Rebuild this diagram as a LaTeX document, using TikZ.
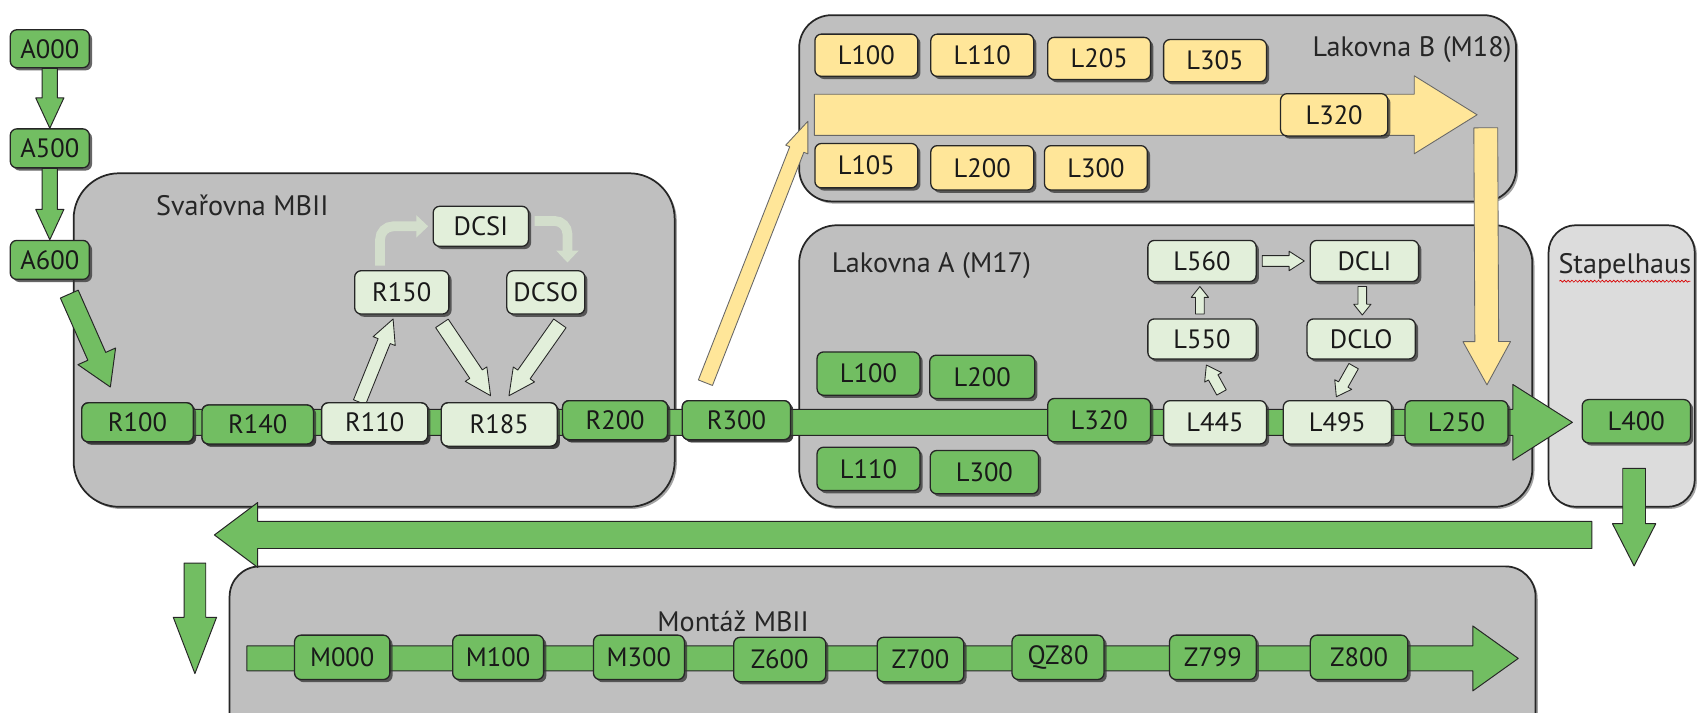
\documentclass[tikz,border=0pt]{standalone}
\usepackage{fontspec}
\setmainfont{PT Sans}
\usetikzlibrary{calc,shadows,arrows.meta,decorations.pathmorphing}

\definecolor{hallgray}{RGB}{191,191,191}
\definecolor{hallgraylt}{RGB}{220,220,220}
\definecolor{grn}{RGB}{114,190,98}
\definecolor{lgrn}{RGB}{226,239,218}
\definecolor{ylw}{RGB}{255,230,153}
\definecolor{edge}{RGB}{38,38,38}

% block arrow: style, from, to, half shaft width, half head width, head length
\newcommand{\blockarrow}[6]{%
  \path #2 coordinate (ba-s) #3 coordinate (ba-e);
  \path ($(ba-e)!#6!(ba-s)$) coordinate (ba-h);
  \draw[#1] ($(ba-s)!#4!90:(ba-e)$) -- ($(ba-h)!#4!90:(ba-e)$) -- ($(ba-h)!#5!90:(ba-e)$)
    -- (ba-e) -- ($(ba-h)!#5!-90:(ba-e)$) -- ($(ba-h)!#4!-90:(ba-e)$) -- ($(ba-s)!#4!-90:(ba-e)$) -- cycle;
}

\tikzset{
  station/.style={draw=edge, line width=1.2pt, rounded corners=6pt, fill=grn,
    minimum width=95pt, minimum height=37pt, inner sep=2pt, text=black!90,
    font=\fontsize{24.5}{27}\selectfont,
    drop shadow={shadow xshift=2.5pt, shadow yshift=-2.5pt, fill=black!80, opacity=0.75}},
  pale/.style={station, fill=lgrn},
  paint/.style={station, fill=ylw},
  hall/.style={draw=edge, line width=1.6pt, fill=hallgray, inner sep=0pt,
    drop shadow={shadow xshift=2pt, shadow yshift=-2pt, fill=black!60, opacity=0.6}},
  halllabel/.style={font=\fontsize{26}{29}\selectfont, text=black!85, inner sep=0pt},
  grnarrow/.style={fill=grn, draw=edge, line width=0.9pt, line join=round},
  palearrow/.style={fill=lgrn, draw=edge, line width=0.8pt, line join=round},
  ylwarrow/.style={fill=ylw, draw=edge!70, line width=0.8pt, line join=round},
  bentarrow/.style={draw=lgrn!85!gray, line width=9pt, rounded corners=12pt,
    -{Triangle[length=11pt,width=20pt]}}
}

\begin{document}
\begin{tikzpicture}[x=1pt,y=-1pt]
\useasboundingbox (0,0) rectangle (1568,658);
\clip (0,0) rectangle (1568,658);
\fill[white] (0,0) rectangle (1568,658);

% halls
\node[hall, rounded corners=42pt, minimum width=555pt, minimum height=308pt] (weld) at (345.5,314) {};
\node[hall, rounded corners=30pt, minimum width=662pt, minimum height=172pt] (paintB) at (1069,100) {};
\node[hall, rounded corners=35pt, minimum width=677pt, minimum height=260pt] (paintA) at (1076.5,338) {};
\node[hall, rounded corners=25pt, minimum width=135pt, minimum height=260pt, fill=hallgraylt] (stapel) at (1497.5,338) {};
\node[hall, rounded corners=28pt, minimum width=1206pt, minimum height=164pt] (assembly) at (815,605) {};

\node[halllabel, anchor=west] (weldLbl) at (144,190) {Svařovna MBII};
\node[halllabel, anchor=east] (paintBLbl) at (1396,46) {Lakovna B (M18)};
\node[halllabel, anchor=west] (paintALbl) at (768,245) {Lakovna A (M17)};
\node[halllabel, anchor=west] (stapelLbl) at (1439,246) {Stapelhaus};
\node[halllabel] (assemblyLbl) at (677,574) {Montáž MBII};
\draw[red!85!black, line width=0.6pt, decorate, decoration={snake, amplitude=0.9pt, segment length=3.5pt}]
  ($(stapelLbl.base west)+(1,7)$) -- ($(stapelLbl.base east)+(-1,7)$);

% free ends of the flow arrows
\coordinate (mainTip) at (1452,390);
\coordinate (yBarIn) at (752,106);
\coordinate (yBarTip) at (1364,106);
\coordinate (retStart) at (1470,494);
\coordinate (retTip) at (198,494);
\coordinate (downIn) at (180,520);
\coordinate (downTip) at (180,622);
\coordinate (mIn) at (228,608);
\coordinate (mTip) at (1402,608);

% stations
\node[station, minimum width=73pt, minimum height=35pt] (A000) at (46,45) {A000};
\node[station, minimum width=73pt, minimum height=36pt] (A500) at (46,137) {A500};
\node[station, minimum width=73pt, minimum height=36pt] (A600) at (46,240) {A600};

\node[station, minimum width=103pt, minimum height=36pt] (R100) at (127,390) {R100};
\node[station, minimum width=103pt, minimum height=36pt] (R140) at (238,392) {R140};
\node[pale, minimum width=98pt, minimum height=36pt] (R110) at (346,390) {R110};
\node[pale, minimum width=107pt, minimum height=40pt] (R185) at (461,392) {R185};
\node[station, minimum width=97pt, minimum height=36pt] (R200) at (568,388) {R200};
\node[station, minimum width=100pt, minimum height=36pt] (R300) at (680,388) {R300};
\node[pale, minimum width=87pt, minimum height=40pt] (R150) at (371,270) {R150};
\node[pale, minimum width=88pt, minimum height=37pt] (DCSI) at (444,209) {DCSI};
\node[pale, minimum width=72pt, minimum height=40pt] (DCSO) at (504,270) {DCSO};

% flow arrows (drawn under the stations)
\blockarrow{grnarrow}{(A000.south)}{(A500.north)}{7pt}{13pt}{28pt}
\blockarrow{grnarrow}{(A500.south)}{(A600.north)}{7pt}{13pt}{28pt}
\blockarrow{grnarrow}{($(A600.south)+(18,13)$)}{($(R100.north west)+(27,-14)$)}{9pt}{19pt}{31pt}
\blockarrow{grnarrow}{(R100.center)}{(mainTip)}{12pt}{35pt}{55pt}
\blockarrow{ylwarrow}{(yBarIn)}{(yBarTip)}{19pt}{36pt}{58pt}
\blockarrow{ylwarrow}{($(R300.north west)+(22,-16)$)}{($(yBarIn)+(-6,6)$)}{7pt}{11pt}{28pt}
\blockarrow{grnarrow}{(retStart)}{(retTip)}{12.5pt}{30pt}{40pt}
\blockarrow{grnarrow}{(downIn)}{(downTip)}{10pt}{20pt}{52pt}
\blockarrow{grnarrow}{(mIn)}{(mTip)}{11.5pt}{30pt}{42pt}

\blockarrow{palearrow}{($(R110.north)+(-14,0)$)}{($(R150.south)+(-8,4)$)}{6pt}{11pt}{22pt}
\blockarrow{palearrow}{($(R150.south east)+(-7,8)$)}{($(R185.north)+(-8,-6)$)}{7pt}{12pt}{24pt}
\blockarrow{palearrow}{($(DCSO.south)+(13,8)$)}{($(R185.north)+(9,-6)$)}{7pt}{12pt}{24pt}
\draw[bentarrow] ($(R150.north)+(-20,-4)$) |- ($(DCSI.west)+(-4,0)$);
\draw[bentarrow] ($(DCSI.east)+(5,-5)$) -| ($(DCSO.north)+(20,-7)$);

% re-draw stations that the long bars pass under
\node[station, minimum width=103pt, minimum height=36pt] at (R100) {R100};
\node[station, minimum width=103pt, minimum height=36pt] at (R140) {R140};
\node[pale, minimum width=98pt, minimum height=36pt] at (R110) {R110};
\node[pale, minimum width=107pt, minimum height=40pt] at (R185) {R185};
\node[station, minimum width=97pt, minimum height=36pt] at (R200) {R200};
\node[station, minimum width=100pt, minimum height=36pt] at (R300) {R300};

% Lakovna B
\node[paint, minimum height=39pt] (bL100) at (800,51) {L100};
\node[paint, minimum height=39pt] (bL110) at (907,51) {L110};
\node[paint, minimum height=39pt] (bL205) at (1015,54) {L205};
\node[paint, minimum height=39pt] (bL305) at (1122,56) {L305};
\node[paint, minimum width=99pt, minimum height=39pt] (bL320) at (1232,106) {L320};
\node[paint, minimum height=41pt] (bL105) at (800,153) {L105};
\node[paint, minimum height=41pt] (bL200) at (907,155) {L200};
\node[paint, minimum height=41pt] (bL300) at (1012,155) {L300};

% Lakovna A
\node[station, minimum height=40pt] (aL100) at (802,345) {L100};
\node[station, minimum width=97pt, minimum height=40pt] (aL200) at (907,348) {L200};
\node[station, minimum height=40pt] (aL110) at (802,433) {L110};
\node[station, minimum width=100pt, minimum height=40pt] (aL300) at (909,436) {L300};
\node[station, minimum height=40pt] (aL320) at (1015,388) {L320};
\node[pale, minimum height=40pt] (aL445) at (1122,390) {L445};
\node[pale, minimum width=100pt, minimum height=40pt] (aL495) at (1235,390) {L495};
\node[station, minimum height=40pt] (aL250) at (1345,390) {L250};
\node[pale, minimum width=100pt, minimum height=38pt] (aL560) at (1110,241) {L560};
\node[pale, minimum width=100pt, minimum height=38pt] (DCLI) at (1260,241) {DCLI};
\node[pale, minimum width=100pt, minimum height=37pt] (aL550) at (1110,313) {L550};
\node[pale, minimum width=100pt, minimum height=37pt] (DCLO) at (1257,313) {DCLO};

\blockarrow{palearrow}{($(aL560.east)+(5,0)$)}{($(DCLI.west)+(-5,0)$)}{5pt}{9pt}{14pt}
\blockarrow{palearrow}{($(aL550.north)+(-2,-4)$)}{($(aL560.south)+(-2,4)$)}{4pt}{8pt}{10pt}
\blockarrow{palearrow}{($(DCLI.south)+(-2,4)$)}{($(DCLO.north)+(1,-3)$)}{4pt}{8pt}{10pt}
\blockarrow{palearrow}{($(aL445.north)+(6,-7)$)}{($(aL550.south)+(4,5)$)}{5pt}{9pt}{13pt}
\blockarrow{palearrow}{($(DCLO.south)+(-7,6)$)}{($(aL495.north)+(-1,-3)$)}{5pt}{9pt}{13pt}

\blockarrow{ylwarrow}{($(yBarTip)+(8,12)$)}{($(aL250.north east)+(-20,-14)$)}{11pt}{22pt}{40pt}

% Stapelhaus
\node[station, minimum width=100pt, minimum height=40pt] (L400) at (1511,389) {L400};
\blockarrow{grnarrow}{($(L400.south)+(-2,23)$)}{($(L400.south)+(-2,113)$)}{10.5pt}{20pt}{39pt}

% Montáž
\node[station, minimum width=88pt, minimum height=41pt] (M000) at (316,607) {M000};
\node[station, minimum width=84pt, minimum height=41pt] (M100) at (460,607) {M100};
\node[station, minimum width=84pt, minimum height=41pt] (M300) at (590,607) {M300};
\node[station, minimum width=85pt, minimum height=41pt] (Z600) at (720,609) {Z600};
\node[station, minimum width=80pt, minimum height=41pt] (Z700) at (850,609) {Z700};
\node[station, minimum width=85pt, minimum height=41pt] (QZ80) at (977,607) {QZ80};
\node[station, minimum width=80pt, minimum height=41pt] (Z799) at (1120,607) {Z799};
\node[station, minimum width=90pt, minimum height=41pt] (Z800) at (1255,607) {Z800};
\end{tikzpicture}
\end{document}
